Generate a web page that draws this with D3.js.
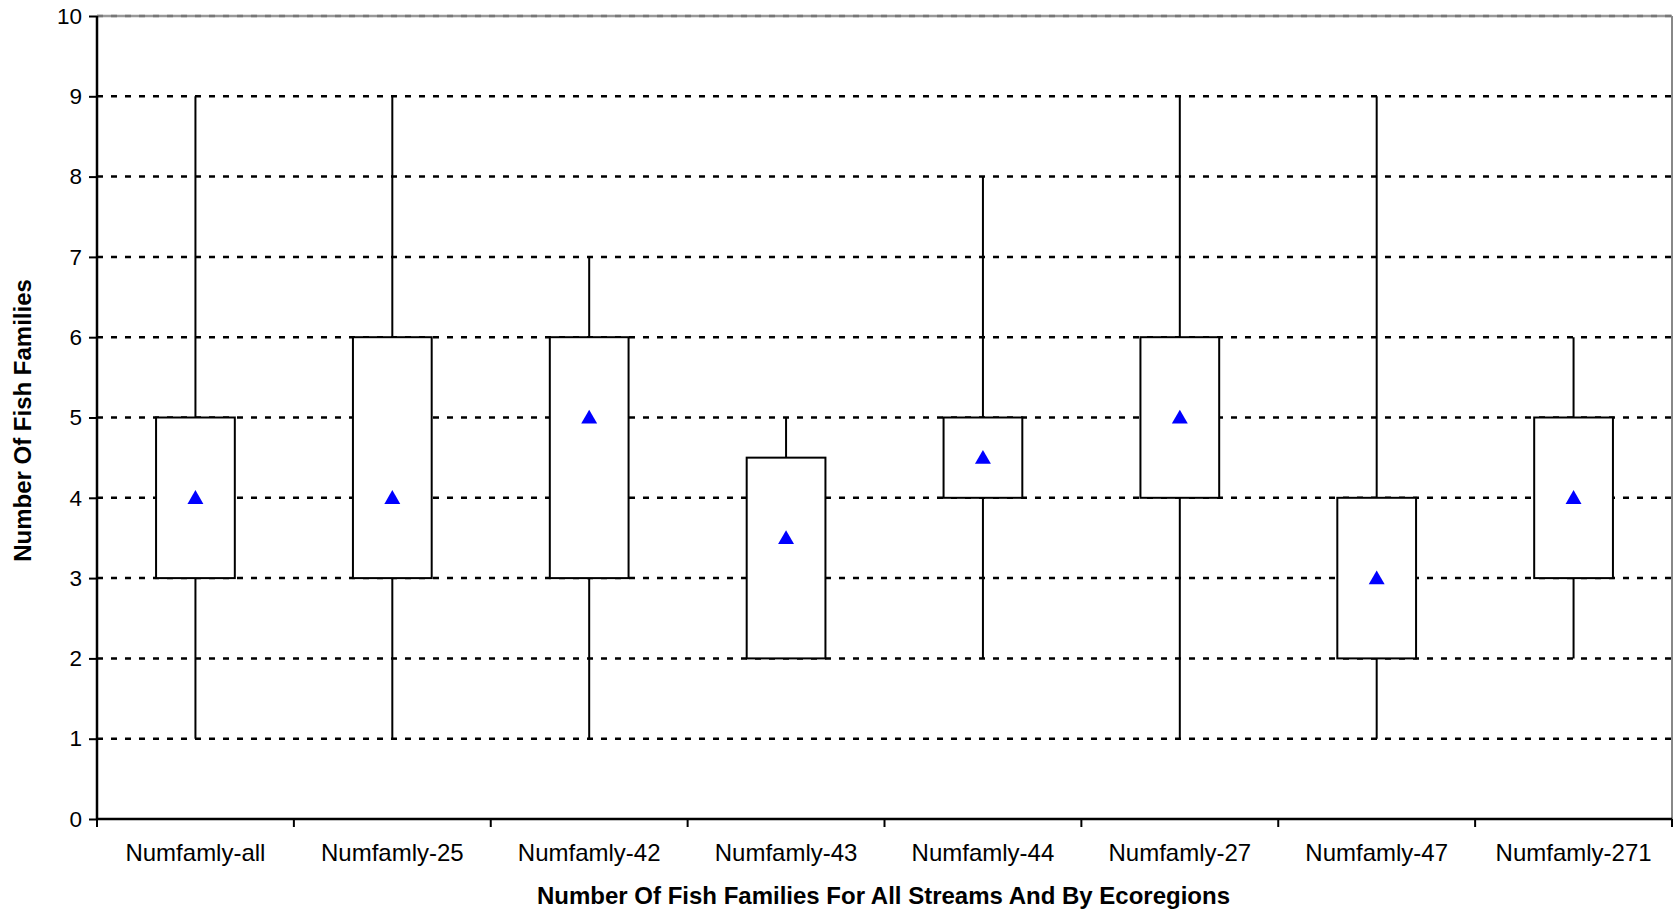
<!DOCTYPE html>
<html>
<head>
<meta charset="utf-8">
<script src="https://cdn.jsdelivr.net/npm/d3@7"></script>
<style>
  body { margin: 0; background: #fff; }
  svg { display: block; font-family: "Liberation Sans", Arial, sans-serif; }
</style>
</head>
<body>
<div id="chart"></div>
<script>
const categories = ['Numfamly-all', 'Numfamly-25', 'Numfamly-42', 'Numfamly-43', 'Numfamly-44', 'Numfamly-27', 'Numfamly-47', 'Numfamly-271']
const mins  = [1, 1, 1, 2, 2, 1, 1, 2]
const q1s   = [3, 3, 3, 2, 4, 4, 2, 3]
const q3s   = [5, 6, 6, 4.5, 5, 6, 4, 5]
const maxs  = [9, 9, 7, 5, 8, 9, 9, 6]
const means = [4, 4, 5, 3.5, 4.5, 5, 3, 4]
const yTicks = [0, 1, 2, 3, 4, 5, 6, 7, 8, 9, 10]

const data = categories.map((c, i) => ({cat: c, min: mins[i], q1: q1s[i], q3: q3s[i], max: maxs[i], mean: means[i]}))

const W = 1673, H = 912
const pLeft = 97, pRight = 1672, pTop = 16, pBottom = 819

const svg = d3.select('#chart').append('svg').attr('width', W).attr('height', H)

const x = d3.scaleBand().domain(categories).range([pLeft, pRight]).padding(0)
const y = d3.scaleLinear().domain([0, 10]).range([pBottom, pTop])
const boxW = x.bandwidth() * 0.4

// grid
svg.append('g').selectAll('line').data(yTicks.filter(t => t > 0)).enter().append('line')
  .attr('x1', pLeft).attr('x2', pRight)
  .attr('y1', d => y(d)).attr('y2', d => y(d))
  .attr('stroke', d => d === 10 ? '#999' : '#000')
  .attr('stroke-width', 2.5)
  .attr('stroke-dasharray', d => d === 10 ? null : '6,8')
svg.append('line').attr('x1', pLeft).attr('x2', pRight).attr('y1', y(10)).attr('y2', y(10))
  .attr('stroke', '#777').attr('stroke-width', 2.5).attr('stroke-dasharray', '6,8')

// right border
svg.append('line').attr('x1', pRight).attr('x2', pRight).attr('y1', pTop).attr('y2', pBottom)
  .attr('stroke', '#888').attr('stroke-width', 2)

// whiskers
const g = svg.append('g')
g.selectAll('line.whi').data(data).enter().append('line').attr('class', 'whi')
  .attr('x1', d => x(d.cat) + x.bandwidth() / 2).attr('x2', d => x(d.cat) + x.bandwidth() / 2)
  .attr('y1', d => y(d.max)).attr('y2', d => y(d.min))
  .attr('stroke', '#000').attr('stroke-width', 2)

g.selectAll('rect').data(data).enter().append('rect')
  .attr('x', d => x(d.cat) + (x.bandwidth() - boxW) / 2)
  .attr('y', d => y(d.q3))
  .attr('width', boxW)
  .attr('height', d => y(d.q1) - y(d.q3))
  .attr('fill', '#fff').attr('stroke', '#000').attr('stroke-width', 2)

// mean markers
const tri = d3.symbol(d3.symbolTriangle, 110)
g.selectAll('path.mean').data(data).enter().append('path').attr('class', 'mean')
  .attr('d', tri)
  .attr('transform', d => `translate(${x(d.cat) + x.bandwidth() / 2},${y(d.mean) + 1.5})`)
  .attr('fill', '#0000ff')

// axes
const yAxis = d3.axisLeft(y).tickValues(yTicks).tickSize(8).tickPadding(7)
const ya = svg.append('g').attr('transform', `translate(${pLeft},0)`).call(yAxis)
ya.select('.domain').attr('stroke-width', 2.5).attr('d', `M0,${pTop}V${pBottom}`)
ya.selectAll('.tick line').attr('stroke-width', 2)
ya.selectAll('text').attr('font-size', 22.5).attr('fill', '#000').attr('font-family', '"Liberation Sans", Arial, sans-serif')

const xAxis = d3.axisBottom(x).tickSize(0).tickPadding(25)
const xa = svg.append('g').attr('transform', `translate(0,${pBottom})`).call(xAxis)
xa.select('.domain').attr('stroke-width', 2.5).attr('d', `M${pLeft},0H${pRight}`)
xa.selectAll('text').attr('font-size', 24).attr('fill', '#000').attr('font-family', '"Liberation Sans", Arial, sans-serif')
xa.selectAll('line.sep').data([...categories.map(c => x(c)), pRight]).enter().append('line').attr('class', 'sep')
  .attr('x1', d => d).attr('x2', d => d).attr('y1', 0).attr('y2', 8)
  .attr('stroke', '#000').attr('stroke-width', 2)

// titles
svg.append('text').attr('x', (pLeft + pRight) / 2 - 1).attr('y', 904)
  .attr('text-anchor', 'middle').attr('font-size', 24).attr('font-weight', 'bold')
  .text('Number Of Fish Families For All Streams And By Ecoregions')

svg.append('text').attr('transform', `translate(31,${(pTop + pBottom) / 2 + 3}) rotate(-90)`)
  .attr('text-anchor', 'middle').attr('font-size', 24).attr('font-weight', 'bold')
  .text('Number Of Fish Families')
</script>
</body>
</html>
